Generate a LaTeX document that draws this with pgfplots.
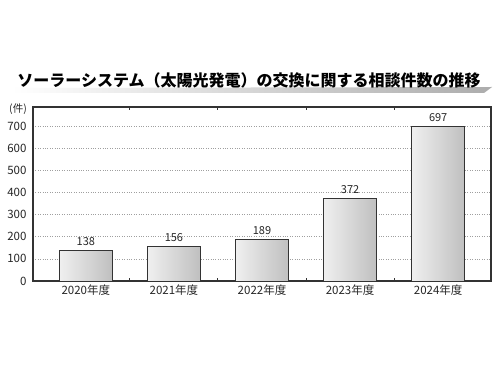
\documentclass[border=0pt]{standalone}
\usepackage{pgfplots}
\pgfplotsset{compat=1.18}
\usepackage{fontspec}
\setmainfont{Noto Sans CJK JP}
\begin{document}
\begin{tikzpicture}[x=1pt,y=1pt]
\useasboundingbox (0,0) rectangle (500,375);
\fill[white] (0,0) rectangle (500,375);
\shade[left color=white, right color=gray!65] (12,282) -- (484,282) -- (492,288) -- (12,287) -- cycle;
\node[font=\fontsize{16}{18}\selectfont\bfseries, inner sep=0pt] at (249,295) {ソーラーシステム（太陽光発電）の交換に関する相談件数の推移};
\begin{axis}[at={(33pt,94pt)}, anchor=south west, scale only axis,
  width=458pt, height=174pt,
  xmin=-0.6, xmax=4.6, ymin=0, ymax=786,
  ybar, bar width=53pt, bar shift=0pt,
  xtick={0,1,2,3,4},
  xticklabels={2020年度,2021年度,2022年度,2023年度,2024年度},
  ytick={0,100,...,700},
  ymajorgrids, grid style={dotted, gray!75, line width=0.6pt},
  major tick length=0pt,
  axis line style={line width=1.5pt, black!80},
  tick label style={font=\fontsize{11.5}{12}\selectfont, text=black!85},
  yticklabel style={xshift=-3pt},
  /pgf/number format/assume math mode=true,
  extra x ticks={0.5,1.5,2.5,3.5},
  extra x tick labels={},
  extra x tick style={major tick length=3pt, tick align=inside, grid=none, tick style={line width=1pt, black!80}},
  nodes near coords,
  every node near coord/.append style={font=\fontsize{11}{12}\selectfont, text=black!85, yshift=1pt},
  barstyle/.style={draw=black!80, line width=1pt, left color=gray!12, right color=gray!50, bar shift=0pt},
  clip=false]
\addplot[barstyle] coordinates {(0,138)};
\addplot[barstyle] coordinates {(1,156)};
\addplot[barstyle] coordinates {(2,189)};
\addplot[barstyle] coordinates {(3,372)};
\addplot[barstyle] coordinates {(4,697)};
\node[anchor=east, font=\fontsize{10.5}{12}\selectfont, text=black!85, inner sep=0pt] at ([xshift=-6pt,yshift=-2pt]rel axis cs:0,1) {(件)};
\end{axis}
\end{tikzpicture}
\end{document}
